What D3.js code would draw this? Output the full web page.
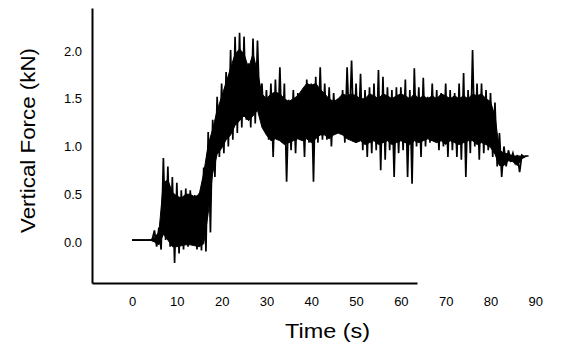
<!DOCTYPE html>
<html>
<head>
<meta charset="utf-8">
<script src="https://cdn.jsdelivr.net/npm/d3@7"></script>
<style>
  html, body { margin: 0; padding: 0; background: #fff; }
  svg { display: block; }
  text { font-family: "Liberation Sans", Arial, sans-serif; fill: #000; }
</style>
</head>
<body>
<svg id="chart" width="582" height="350"></svg>
<script>
// ---- data (values per second, 0..88 s) ----
const seconds = d3.range(0, 89);
// peaks and troughs of the spiky trace
const upper = [
  0.02, 0.02, 0.02, 0.02, 0.02, 0.12, 0.15, 0.88, 0.79, 0.68,
  0.62, 0.54, 0.56, 0.54, 0.49, 0.51, 0.78, 1.15, 1.28, 1.52,
  1.66, 1.78, 2.01, 2.15, 2.19, 2.15, 1.87, 2.13, 2.11, 1.66,
  1.59, 1.66, 1.70, 1.83, 1.66, 1.49, 1.59, 1.56, 1.52, 1.70,
  1.66, 1.73, 1.83, 1.66, 1.62, 1.56, 1.49, 1.59, 1.83, 1.90,
  1.66, 1.76, 1.59, 1.62, 1.66, 1.80, 1.73, 1.62, 1.59, 1.62,
  1.62, 1.70, 1.59, 1.82, 1.62, 1.72, 1.52, 1.66, 1.59, 1.56,
  1.66, 1.59, 1.56, 1.66, 1.77, 1.59, 2.01, 1.66, 1.66, 1.59,
  1.56, 1.46, 1.14, 1.00, 0.96, 0.93, 0.91, 0.91, 0.90
];
const lower = [
  0.02, 0.02, 0.02, 0.02, 0.02, -0.05, -0.08, 0.02, -0.05, -0.22,
  -0.12, -0.08, -0.05, -0.03, -0.08, -0.09, -0.10, 0.10, 0.68, 0.89,
  0.93, 1.00, 1.07, 1.14, 1.20, 1.28, 1.20, 1.24, 1.38, 1.17,
  1.07, 0.89, 1.07, 1.04, 0.63, 0.96, 0.93, 1.14, 0.89, 1.04,
  0.63, 1.04, 1.07, 1.07, 1.00, 1.14, 1.14, 1.04, 1.20, 1.10,
  1.07, 0.96, 0.89, 0.93, 0.96, 0.75, 0.86, 0.96, 0.68, 0.93,
  0.96, 0.68, 0.61, 1.00, 0.89, 1.00, 1.04, 1.07, 0.96, 1.00,
  0.89, 0.96, 0.89, 0.86, 0.68, 0.93, 1.00, 0.86, 0.93, 0.96,
  0.89, 0.79, 0.68, 0.79, 0.86, 0.83, 0.73, 0.89, 0.90
];
// edges of the solid (dense) part of the trace
const coreUpper = [
  0.02, 0.02, 0.02, 0.02, 0.02, 0.05, 0.10, 0.62, 0.65, 0.52,
  0.48, 0.46, 0.50, 0.50, 0.47, 0.50, 0.72, 1.02, 1.18, 1.38,
  1.52, 1.67, 1.82, 1.97, 2.02, 1.97, 1.82, 1.97, 1.78, 1.55,
  1.50, 1.55, 1.57, 1.55, 1.50, 1.47, 1.50, 1.53, 1.60, 1.66,
  1.64, 1.66, 1.60, 1.55, 1.50, 1.47, 1.50, 1.55, 1.53, 1.55,
  1.53, 1.50, 1.50, 1.55, 1.53, 1.50, 1.55, 1.53, 1.50, 1.53,
  1.55, 1.53, 1.50, 1.55, 1.50, 1.53, 1.50, 1.53, 1.50, 1.55,
  1.53, 1.50, 1.53, 1.50, 1.53, 1.50, 1.55, 1.53, 1.55, 1.50,
  1.47, 1.32, 0.96, 0.93, 0.92, 0.90, 0.90, 0.90, 0.90
];
const coreLower = [
  0.02, 0.02, 0.02, 0.02, 0.02, 0.00, -0.03, 0.08, 0.02, -0.05,
  -0.05, -0.04, -0.03, -0.03, -0.04, -0.05, -0.02, 0.30, 0.72, 0.92,
  0.98, 1.07, 1.12, 1.22, 1.27, 1.32, 1.27, 1.32, 1.38, 1.20,
  1.12, 1.06, 1.08, 1.06, 1.02, 1.04, 1.06, 1.08, 1.06, 1.08,
  1.04, 1.08, 1.12, 1.12, 1.08, 1.12, 1.14, 1.12, 1.08, 1.06,
  1.04, 1.06, 1.02, 1.04, 1.06, 1.02, 1.04, 1.06, 1.02, 1.04,
  1.06, 1.04, 1.02, 1.06, 1.04, 1.06, 1.08, 1.06, 1.04, 1.06,
  1.02, 1.06, 1.04, 1.02, 1.04, 1.06, 1.06, 1.02, 1.04, 1.02,
  0.99, 0.92, 0.80, 0.80, 0.85, 0.84, 0.80, 0.87, 0.90
];
const xTicks = [0, 10, 20, 30, 40, 50, 60, 70, 80, 90];
const yTicks = [0.0, 0.5, 1.0, 1.5, 2.0];
const xTitle = "Time (s)";
const yTitle = "Vertical Force (kN)";

// ---- build the trace: peak then trough within each second ----
const trace = [];
seconds.forEach((s, i) => {
  trace.push({ t: s, v: upper[i] });
  trace.push({ t: s + 0.5, v: lower[i] });
});
const band = seconds.map((s, i) => ({ t: s, hi: coreUpper[i], lo: coreLower[i] }));

const svg = d3.select("#chart");

const x = d3.scaleLinear().domain([-8.93, 63.6]).range([92, 417]);
const y = d3.scaleLinear().domain([-0.43, 2.45]).range([283, 8]);

// dense core of the trace
svg.append("path")
  .datum(band)
  .attr("fill", "#000")
  .attr("stroke", "#000")
  .attr("stroke-width", 1)
  .attr("d", d3.area().x(d => x(d.t)).y0(d => y(d.lo)).y1(d => y(d.hi)));

// spiky trace
svg.append("path")
  .datum(trace)
  .attr("fill", "none")
  .attr("stroke", "#000")
  .attr("stroke-width", 1.7)
  .attr("stroke-linejoin", "miter")
  .attr("d", d3.line().x(d => x(d.t)).y(d => y(d.v)));

// x axis
const gx = svg.append("g")
  .attr("transform", "translate(0,283)")
  .call(d3.axisBottom(x).tickValues(xTicks).tickFormat(d3.format("d"))
    .tickSize(0).tickSizeOuter(0).tickPadding(14));
gx.select(".domain").attr("stroke", "#000").attr("stroke-width", 2);
gx.selectAll("text").style("font-size", "13px")
  .style("font-family", "'Liberation Sans', Arial, sans-serif");

// y axis
const gy = svg.append("g")
  .attr("transform", "translate(92,0)")
  .call(d3.axisLeft(y).tickValues(yTicks).tickFormat(d3.format(".1f"))
    .tickSize(0).tickSizeOuter(0).tickPadding(10));
gy.select(".domain").attr("stroke", "#000").attr("stroke-width", 2);
gy.selectAll("text").style("font-size", "13px")
  .style("font-family", "'Liberation Sans', Arial, sans-serif");

// titles
svg.append("text")
  .attr("x", 327.5).attr("y", 337.5)
  .attr("text-anchor", "middle")
  .attr("textLength", 85).attr("lengthAdjust", "spacingAndGlyphs")
  .style("font-size", "20px")
  .text(xTitle);

svg.append("text")
  .attr("transform", "translate(35,140.5) rotate(-90)")
  .attr("text-anchor", "middle")
  .attr("textLength", 185).attr("lengthAdjust", "spacingAndGlyphs")
  .style("font-size", "21px")
  .text(yTitle);
</script>
</body>
</html>
